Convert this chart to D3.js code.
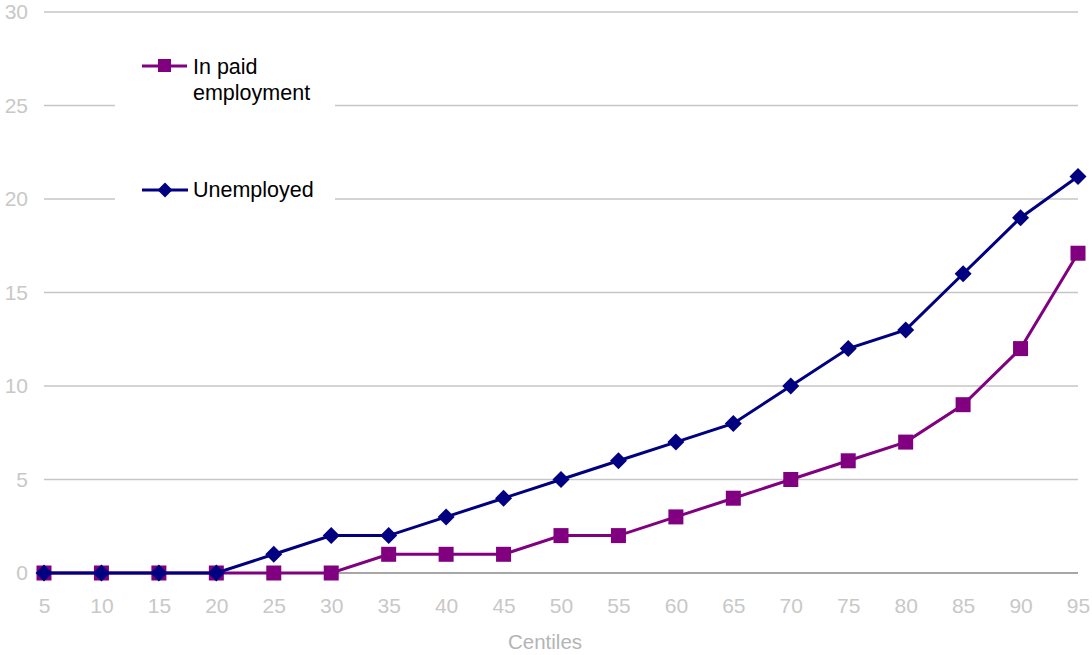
<!DOCTYPE html>
<html><head><meta charset="utf-8">
<script src="https://cdn.jsdelivr.net/npm/d3@7"></script>
<style>body{margin:0;background:#fff}svg{display:block;font-family:"Liberation Sans",Arial,sans-serif}</style>
</head><body>
<svg id="c" width="1092" height="655"></svg>
<script>
const centiles = [5,10,15,20,25,30,35,40,45,50,55,60,65,70,75,80,85,90,95];
const paidEmployment = [0,0,0,0,0,0,1,1,1,2,2,3,4,5,6,7,9,12,17.1];
const unemployed = [0,0,0,0,1,2,2,3,4,5,6,7,8,10,12,13,16,19,21.2];
const yTicks = [0,5,10,15,20,25,30];
const seriesNames = ["In paid employment","Unemployed"];
const colors = ["#800080","#000080"];

const svg = d3.select("#c");
const x = d3.scalePoint().domain(centiles).range([44,1078]);
const y = d3.scaleLinear().domain([0,30]).range([573,12]);
const FONT = "Liberation Sans, Arial, sans-serif";

// gridlines
svg.append("g").selectAll("line").data(yTicks.filter(d=>d>0)).join("line")
  .attr("x1",44).attr("x2",1078).attr("y1",d=>y(d)).attr("y2",d=>y(d))
  .attr("stroke","#c6c6c6").attr("stroke-width",1.5);
// baseline
svg.append("line").attr("x1",44).attr("x2",1078).attr("y1",y(0)).attr("y2",y(0))
  .attr("stroke","#a6a6a6").attr("stroke-width",2);

// y axis labels
const yAx = svg.append("g").attr("transform","translate(28,0)")
  .call(d3.axisLeft(y).tickValues(yTicks).tickSize(0).tickPadding(0));
yAx.select(".domain").remove();
yAx.selectAll("text").attr("font-size",21).attr("fill","#c8c8c8").attr("font-family",FONT);

// x axis labels
const xAx = svg.append("g").attr("transform","translate(0,613)")
  .call(d3.axisBottom(x).tickSize(0).tickPadding(0));
xAx.select(".domain").remove();
xAx.selectAll("text").attr("y",0).attr("dy",0).attr("font-size",21).attr("fill","#c8c8c8").attr("font-family",FONT);

svg.append("text").attr("x",545).attr("y",649).attr("text-anchor","middle")
  .attr("font-size",20.5).attr("fill","#b4b4b4").text("Centiles");

// legend background
svg.append("rect").attr("x",115).attr("y",40).attr("width",220).attr("height",175).attr("fill","#fff");

const line = d3.line().x((d,i)=>x(centiles[i])).y(d=>y(d));

// paid employment
svg.append("path").datum(paidEmployment).attr("d",line).attr("fill","none")
  .attr("stroke",colors[0]).attr("stroke-width",3);
svg.append("g").selectAll("rect").data(paidEmployment).join("rect")
  .attr("x",(d,i)=>x(centiles[i])-7.5).attr("y",d=>y(d)-7.5)
  .attr("width",15).attr("height",15).attr("fill",colors[0]);

// unemployed
svg.append("path").datum(unemployed).attr("d",line).attr("fill","none")
  .attr("stroke",colors[1]).attr("stroke-width",3);
const diamond = "M0,-8.5L8.5,0L0,8.5L-8.5,0Z";
svg.append("g").selectAll("path").data(unemployed).join("path")
  .attr("d",diamond).attr("transform",(d,i)=>`translate(${x(centiles[i])},${y(d)})`)
  .attr("fill",colors[1]);

// legend
const lg = svg.append("g").attr("font-family",FONT);
lg.append("line").attr("x1",142).attr("x2",187).attr("y1",66).attr("y2",66).attr("stroke",colors[0]).attr("stroke-width",3);
lg.append("rect").attr("x",158).attr("y",59).attr("width",13).attr("height",13).attr("fill",colors[0]);
lg.append("text").attr("x",193).attr("y",74).attr("font-size",21.5).attr("fill","#000").text("In paid");
lg.append("text").attr("x",193).attr("y",100).attr("font-size",21.5).attr("fill","#000").text("employment");
lg.append("line").attr("x1",142).attr("x2",188).attr("y1",190).attr("y2",190).attr("stroke",colors[1]).attr("stroke-width",3);
lg.append("path").attr("d","M0,-7.5L7.5,0L0,7.5L-7.5,0Z").attr("transform","translate(165,190)").attr("fill",colors[1]);
lg.append("text").attr("x",193).attr("y",197).attr("font-size",21.5).attr("fill","#000").text("Unemployed");
</script>
</body></html>
